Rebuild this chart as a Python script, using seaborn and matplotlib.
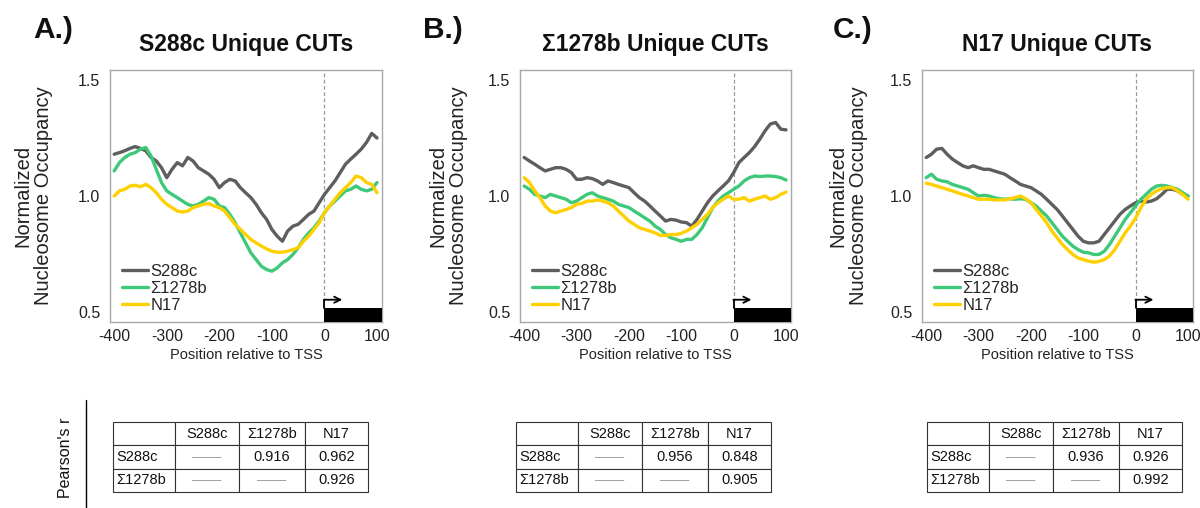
import numpy as np
import pandas as pd
import matplotlib
matplotlib.use("Agg")
import matplotlib.pyplot as plt
from matplotlib.patches import Rectangle
from matplotlib.lines import Line2D
import seaborn as sns

# ---------------- data ----------------
positions = list(range(-400, 101, 10))
strains = ["S288c", "Σ1278b", "N17"]
panel_labels = ["A.)", "B.)", "C.)"]
panel_titles = ["S288c Unique CUTs", "Σ1278b Unique CUTs", "N17 Unique CUTs"]
x_ticks = [-400, -300, -200, -100, 0, 100]
y_ticks = [0.5, 0.75, 1.0, 1.25, 1.5]
y_ticklabels = ["0.5", "", "1.0", "", "1.5"]

a_s288c = [1.180, 1.187, 1.195, 1.205, 1.213, 1.205, 1.195, 1.166, 1.151, 1.122,
           1.079, 1.115, 1.144, 1.130, 1.166, 1.151, 1.122, 1.108, 1.094, 1.072,
           1.036, 1.058, 1.072, 1.065, 1.036, 1.014, 0.993, 0.964, 0.928, 0.899,
           0.856, 0.827, 0.805, 0.849, 0.870, 0.878, 0.899, 0.921, 0.935, 0.971,
           1.007, 1.036, 1.065, 1.101, 1.137, 1.159, 1.180, 1.202, 1.231, 1.270, 1.250]
a_s1278b = [1.108, 1.144, 1.166, 1.180, 1.187, 1.202, 1.209, 1.173, 1.115, 1.058,
            1.022, 1.007, 0.993, 0.978, 0.964, 0.957, 0.964, 0.978, 0.993, 0.986,
            0.957, 0.950, 0.921, 0.885, 0.841, 0.798, 0.755, 0.726, 0.697, 0.683,
            0.676, 0.690, 0.712, 0.726, 0.748, 0.777, 0.813, 0.841, 0.863, 0.892,
            0.928, 0.957, 0.978, 1.000, 1.022, 1.029, 1.043, 1.029, 1.022, 1.029, 1.058]
a_n17 = [1.000, 1.022, 1.029, 1.043, 1.046, 1.040, 1.050, 1.036, 1.014, 0.986,
         0.964, 0.950, 0.935, 0.931, 0.935, 0.950, 0.957, 0.964, 0.968, 0.957,
         0.950, 0.935, 0.906, 0.878, 0.856, 0.834, 0.813, 0.798, 0.784, 0.772,
         0.762, 0.758, 0.758, 0.762, 0.769, 0.777, 0.805, 0.827, 0.856, 0.885,
         0.928, 0.957, 0.986, 1.014, 1.036, 1.058, 1.086, 1.079, 1.058, 1.050, 1.014]

b_s288c = [1.166, 1.151, 1.137, 1.122, 1.108, 1.115, 1.122, 1.122, 1.115, 1.101,
           1.072, 1.072, 1.079, 1.075, 1.065, 1.050, 1.065, 1.058, 1.050, 1.043,
           1.036, 1.014, 0.993, 0.978, 0.957, 0.935, 0.914, 0.892, 0.899, 0.896,
           0.888, 0.885, 0.870, 0.899, 0.935, 0.971, 1.000, 1.022, 1.043, 1.065,
           1.101, 1.144, 1.166, 1.187, 1.213, 1.245, 1.281, 1.310, 1.317, 1.288, 1.285]
b_s1278b = [1.043, 1.029, 1.007, 1.000, 0.993, 1.007, 1.000, 0.993, 0.986, 0.971,
            0.978, 0.993, 1.007, 1.014, 1.000, 0.993, 0.986, 0.978, 0.964, 0.957,
            0.950, 0.935, 0.921, 0.906, 0.892, 0.870, 0.856, 0.834, 0.820, 0.813,
            0.805, 0.813, 0.813, 0.834, 0.863, 0.906, 0.950, 0.978, 1.000, 1.014,
            1.029, 1.043, 1.065, 1.079, 1.086, 1.084, 1.086, 1.086, 1.084, 1.079, 1.069]
b_n17 = [1.079, 1.058, 1.022, 0.993, 0.957, 0.935, 0.928, 0.935, 0.942, 0.950,
         0.964, 0.968, 0.978, 0.978, 0.983, 0.978, 0.971, 0.957, 0.935, 0.914,
         0.892, 0.878, 0.863, 0.856, 0.849, 0.841, 0.830, 0.830, 0.834, 0.834,
         0.839, 0.849, 0.863, 0.878, 0.899, 0.921, 0.950, 0.971, 0.986, 1.000,
         0.986, 0.986, 0.993, 0.978, 0.986, 0.993, 1.000, 0.986, 0.993, 1.007, 1.017]

c_s288c = [1.166, 1.180, 1.202, 1.205, 1.180, 1.159, 1.144, 1.130, 1.122, 1.130,
           1.122, 1.115, 1.115, 1.108, 1.101, 1.094, 1.079, 1.065, 1.050, 1.043,
           1.036, 1.022, 1.007, 0.986, 0.964, 0.942, 0.914, 0.885, 0.856, 0.827,
           0.805, 0.798, 0.798, 0.805, 0.834, 0.863, 0.892, 0.921, 0.942, 0.957,
           0.971, 0.978, 0.974, 0.978, 0.988, 1.007, 1.029, 1.029, 1.022, 1.007, 1.000]
c_s1278b = [1.079, 1.094, 1.072, 1.065, 1.061, 1.050, 1.043, 1.036, 1.029, 1.014,
            1.000, 1.003, 1.000, 0.993, 0.988, 0.986, 0.988, 0.986, 0.988, 0.986,
            0.971, 0.957, 0.935, 0.914, 0.885, 0.856, 0.827, 0.805, 0.784, 0.769,
            0.758, 0.755, 0.748, 0.748, 0.762, 0.791, 0.827, 0.863, 0.899, 0.928,
            0.957, 0.986, 1.007, 1.029, 1.043, 1.046, 1.043, 1.036, 1.029, 1.014, 1.000]
c_n17 = [1.055, 1.050, 1.043, 1.036, 1.029, 1.022, 1.014, 1.007, 1.000, 0.993,
         0.986, 0.986, 0.986, 0.983, 0.983, 0.983, 0.988, 0.993, 1.000, 0.988,
         0.971, 0.942, 0.914, 0.885, 0.849, 0.820, 0.791, 0.769, 0.748, 0.733,
         0.726, 0.719, 0.715, 0.718, 0.726, 0.741, 0.769, 0.805, 0.841, 0.870,
         0.906, 0.950, 0.986, 1.007, 1.022, 1.032, 1.036, 1.036, 1.022, 1.007, 0.986]

# Pearson's r tables (None = not applicable, shown as a dash)
pearson_a_s288c = [None, 0.916, 0.962]
pearson_a_s1278b = [None, None, 0.926]
pearson_b_s288c = [None, 0.956, 0.848]
pearson_b_s1278b = [None, None, 0.905]
pearson_c_s288c = [None, 0.936, 0.926]
pearson_c_s1278b = [None, None, 0.992]

panels = [
    (a_s288c, a_s1278b, a_n17, pearson_a_s288c, pearson_a_s1278b),
    (b_s288c, b_s1278b, b_n17, pearson_b_s288c, pearson_b_s1278b),
    (c_s288c, c_s1278b, c_n17, pearson_c_s288c, pearson_c_s1278b),
]

palette = {"S288c": "#5e5e5e", "Σ1278b": "#3ec97a", "N17": "#ffd000"}

# ---------------- style ----------------
sns.set_style("white")
plt.rcParams["font.family"] = ["Liberation Sans", "DejaVu Sans"]

W, H = 1200, 508
fig = plt.figure(figsize=(12, 5.08), dpi=100)

def fx(px):
    return px / W

def fy(py):
    return 1 - py / H

ax_left_px = [110, 520, 922]
ax_width_px = [272, 271, 271]
label_left_px = [33, 423, 833]
ylabel_off_px = [-77, -72, -74]
table_left_px = [113, 516, 927]
ax_top, ax_bot = 70, 322
XLIM = (-408, 109.5)
YLIM = (0.457, 1.543)

for i, (s1, s2, s3, r1, r2) in enumerate(panels):
    ax = fig.add_axes([fx(ax_left_px[i]), fy(ax_bot), fx(ax_width_px[i]),
                       (ax_bot - ax_top) / H])
    df = pd.DataFrame({
        "position": positions * 3,
        "occupancy": s1 + s2 + s3,
        "strain": [strains[0]] * len(positions) + [strains[1]] * len(positions)
                  + [strains[2]] * len(positions),
    })
    sns.lineplot(data=df, x="position", y="occupancy", hue="strain",
                 hue_order=strains, palette=palette, linewidth=2.4,
                 errorbar=None, legend=False, ax=ax, zorder=3)
    ax.set_xlim(*XLIM)
    ax.set_ylim(*YLIM)
    ax.set_xticks(x_ticks)
    ax.set_xticklabels([str(t) for t in x_ticks])
    ax.set_yticks(y_ticks)
    ax.set_yticklabels(y_ticklabels)
    ax.tick_params(axis="y", length=5, width=0.8, color="#999999",
                   labelsize=11.5, pad=2, labelcolor="#222222")
    ax.tick_params(axis="x", length=0, labelsize=11.5, pad=5,
                   labelcolor="#222222")
    for sp in ax.spines.values():
        sp.set_color("#a8a8a8")
        sp.set_linewidth(1.0)
    ax.set_xlabel("Position relative to TSS", fontsize=10.5, labelpad=3,
                  color="#222222")
    ax.set_ylabel("")
    ax.text(ylabel_off_px[i] / ax_width_px[i], 0.5,
            "Normalized\nNucleosome Occupancy", transform=ax.transAxes,
            rotation=90, ha="center", va="center", fontsize=14.5,
            linespacing=1.1, multialignment="center", color="#222222")

    # TSS marker: dashed line, black gene bar and arrow
    bar_top = 0.517
    ax.plot([0, 0], [bar_top, YLIM[1]], color="#999999", lw=0.9,
            linestyle=(0, (3, 2)), zorder=1)
    ax.add_patch(Rectangle((0, YLIM[0]), XLIM[1], bar_top - YLIM[0],
                           facecolor="black", edgecolor="none", zorder=4,
                           clip_on=False))
    ax.plot([0, 0], [bar_top, 0.553], color="black", lw=1.3, zorder=4)
    ax.annotate("", xy=(34, 0.553), xytext=(-0.6, 0.553),
                arrowprops=dict(arrowstyle="->", color="black", lw=1.3,
                                shrinkA=0, shrinkB=0, mutation_scale=11),
                zorder=4)

    handles = ax.get_lines()[:3]
    ax.legend(handles, strains, loc="lower left", bbox_to_anchor=(0.015, 0.005),
              frameon=False, fontsize=12, handlelength=1.6,
              handletextpad=0.12, labelspacing=0.12, borderaxespad=0.25,
              borderpad=0.2)

    # titles
    cx = fx(ax_left_px[i] + ax_width_px[i] / 2)
    fig.text(cx, fy(45), panel_titles[i], ha="center", va="center",
             fontsize=16.5, weight="bold", color="#111111")
    fig.text(fx(label_left_px[i]), fy(30), panel_labels[i], ha="left",
             va="center", fontsize=21.5, weight="bold", color="#111111")

    # Pearson table
    tax = fig.add_axes([fx(table_left_px[i]), fy(492), fx(255), (492 - 422) / H])
    tax.axis("off")
    dash = "——"
    fmt = lambda v: dash if v is None else f"{v:.3f}"
    cells = [["", strains[0], strains[1], strains[2]],
             [strains[0]] + [fmt(v) for v in r1],
             [strains[1]] + [fmt(v) for v in r2]]
    tab = tax.table(cellText=cells, bbox=[0, 0, 1, 1],
                    colWidths=[62, 64, 66, 63], cellLoc="center")
    tab.auto_set_font_size(False)
    tab.set_fontsize(10.5)
    for (r, c), cell in tab.get_celld().items():
        cell.set_edgecolor("#333333")
        cell.set_linewidth(0.8)
        cell.PAD = 0.05
        cell.get_text().set_color("#111111")
        if c == 0:
            cell._loc = "left"
            cell.get_text().set_ha("left")
        if cell.get_text().get_text() == dash:
            cell.get_text().set_color("#a0a0a0")

# Pearson's r label
fig.text(fx(65), fy(458), "Pearson's r", rotation=90, ha="center",
         va="center", fontsize=11.5, color="#111111")
fig.add_artist(Line2D([fx(86), fx(86)], [fy(400), fy(508)], color="black",
                      lw=1.0))

fig.savefig("out.png", dpi=100)
